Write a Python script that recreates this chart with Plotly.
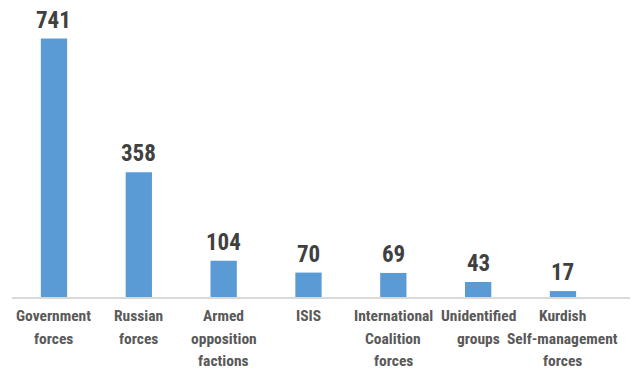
import plotly.graph_objects as go

categories = ["Government forces", "Russian forces", "Armed opposition factions", "ISIS",
              "International Coalition forces", "Unidentified groups", "Kurdish Self-management forces"]
tick_labels = ["Government<br>forces", "Russian<br>forces", "Armed<br>opposition<br>factions", "ISIS",
               "International<br>Coalition<br>forces", "Unidentified<br>groups", "Kurdish<br>Self-management<br>forces"]
values = [741, 358, 104, 70, 69, 43, 17]

FONT = "Roboto Condensed, Open Sans Condensed, DejaVu Sans Condensed, sans-serif"
xs = list(range(len(categories)))

fig = go.Figure()
fig.add_trace(go.Bar(x=xs, y=values, width=0.31, marker=dict(color="#5B9BD5", line=dict(width=0)),
                     hovertext=categories))

# value labels
for x, v in zip(xs, values):
    fig.add_annotation(x=x, y=v, text=str(v), showarrow=False, yanchor="bottom", yshift=3,
                       font=dict(family=FONT, size=23, color="#404040", weight="bold"))

# category labels (one annotation per line for the reference's looser line spacing)
LINE_GAP = 22.5
for x, lab in zip(xs, tick_labels):
    for j, line in enumerate(lab.split("<br>")):
        fig.add_annotation(x=x, y=0, text=line, showarrow=False, yanchor="middle",
                           yshift=-19 - j * LINE_GAP,
                           font=dict(family=FONT, size=15.5, color="#595959", weight="bold"))

# page has an 8px body margin, so the figure is sized/offset to compensate
fig.update_layout(
    width=632, height=369,
    margin=dict(l=4, r=10, t=10, b=80),
    paper_bgcolor="white", plot_bgcolor="white",
    showlegend=False,
    xaxis=dict(range=[-0.495, 6.79], tickvals=xs, showticklabels=False, showgrid=False,
               showline=True, linecolor="#d9d9d9", linewidth=1.5, zeroline=False, ticks=""),
    yaxis=dict(range=[0, 800], visible=False, showgrid=False, zeroline=False),
)

fig.write_html("out.html")
